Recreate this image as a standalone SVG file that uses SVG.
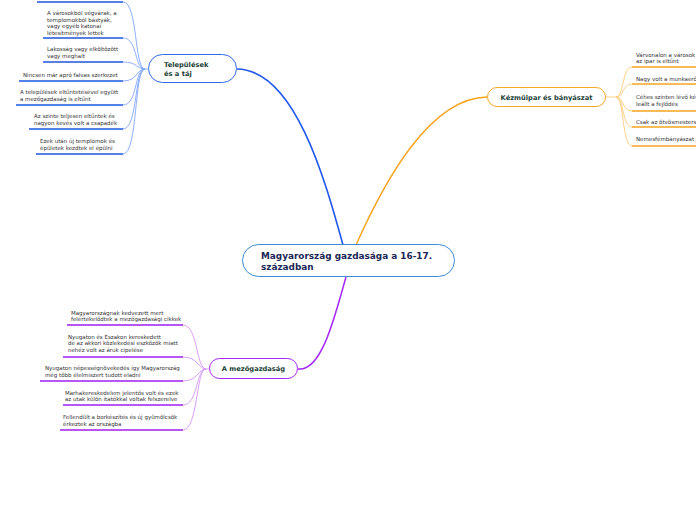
<svg xmlns="http://www.w3.org/2000/svg" width="696" height="520" viewBox="0 0 696 520">
<style>
.leaf{font-family:"DejaVu Sans",Verdana,sans-serif;font-size:5.5px;fill:#333}
.branch{font-family:"DejaVu Sans",Verdana,sans-serif;font-size:6.7px;font-weight:bold;fill:#1b3f36}
.central{font-family:"DejaVu Sans",Verdana,sans-serif;font-size:8.9px;font-weight:bold;fill:#1a2656}
.bl{stroke:#1f55e0;stroke-width:1.6;fill:none}
.blc{stroke:#7fa4ff;stroke-width:0.9;fill:none}
.or{stroke:#f7a51e;stroke-width:1.6;fill:none}
.orc{stroke:#fcc978;stroke-width:0.9;fill:none}
.pu{stroke:#a11ef2;stroke-width:1.6;fill:none}
.puc{stroke:#d595f8;stroke-width:0.9;fill:none}
</style>
<rect width="696" height="520" fill="#fff"/>
<g id="connectors">
<path d="M343,245 C325,180 295,70 237,69" stroke="#2158ec" stroke-width="1.6" fill="none"/>
<path d="M356,245 C385,180 430,98 487,97" stroke="#f9a21a" stroke-width="1.4" fill="none"/>
<path d="M346,277 C335,315 322,372 298,369" stroke="#a526f5" stroke-width="1.5" fill="none"/>
<path class="blc" d="M148,69 L145,69"/>
<path class="blc" d="M123,2 C138,2 134,69 145,69"/>
<path class="blc" d="M123,38 C138,38 134,69 145,69"/>
<path class="blc" d="M123,62 C138,62 136,69 145,69"/>
<path class="blc" d="M123,81 C138,81 136,69 145,69"/>
<path class="blc" d="M123,105 C138,105 134,69 145,69"/>
<path class="blc" d="M123,129 C138,129 134,69 145,69"/>
<path class="blc" d="M123,154 C138,154 134,69 145,69"/>
<path class="orc" d="M606,97 L616,97"/>
<path class="orc" d="M632,67 C622,67 624,97 616,97"/>
<path class="orc" d="M632,84 C622,84 624,97 616,97"/>
<path class="orc" d="M632,111 C622,111 624,97 616,97"/>
<path class="orc" d="M632,127 C622,127 624,97 616,97"/>
<path class="orc" d="M632,146 C622,146 624,97 616,97"/>
<path class="puc" d="M209,369 L206,369"/>
<path class="puc" d="M183,325 C198,325 196,369 206,369"/>
<path class="puc" d="M183,357 C198,357 198,369 206,369"/>
<path class="puc" d="M183,381 C198,381 198,369 206,369"/>
<path class="puc" d="M183,405 C198,405 196,369 206,369"/>
<path class="puc" d="M183,430 C198,430 196,369 206,369"/>
</g>
<g id="central">
<rect x="242.5" y="244.5" width="212" height="32" rx="16" fill="#fff" stroke="#3b8bd6" stroke-width="1"/>
<text class="central" x="261" y="259">Magyarország gazdasága a 16-17.</text>
<text class="central" x="261" y="270">században</text>
</g>
<g id="telepulesek">
<rect x="148.5" y="54.5" width="88" height="28" rx="14" fill="#fff" stroke="#2f6aea" stroke-width="1"/>
<text class="branch" x="164" y="67">Települések</text>
<text class="branch" x="164" y="76">és a táj</text>
</g>
<g id="t1"><line class="bl" x1="37" y1="2" x2="123" y2="2"/></g>
<g id="t2">
<text class="leaf" x="47" y="15">A városokból végvárak, a</text>
<text class="leaf" x="47" y="21.5">templomokból bástyák,</text>
<text class="leaf" x="47" y="28">vagy egyéb katonai</text>
<text class="leaf" x="47" y="34.5">létesítmények lettek</text>
<line class="bl" x1="43" y1="38" x2="123" y2="38"/>
</g>
<g id="t3">
<text class="leaf" x="47" y="51">Lakosság vagy elköltözött</text>
<text class="leaf" x="47" y="58">vagy meghalt</text>
<line class="bl" x1="43" y1="62" x2="123" y2="62"/>
</g>
<g id="t4">
<text class="leaf" x="23" y="76.5">Nincsen már apró falvas szerkezet</text>
<line class="bl" x1="19" y1="81" x2="123" y2="81"/>
</g>
<g id="t5">
<text class="leaf" x="20" y="94">A települések eltűntetésével együtt</text>
<text class="leaf" x="20" y="100.5">a mezőgazdaság is eltűnt</text>
<line class="bl" x1="16" y1="105" x2="123" y2="105"/>
</g>
<g id="t6">
<text class="leaf" x="34" y="118">Az szinte teljesen eltűntek és</text>
<text class="leaf" x="34" y="124.5">nagyon kevés volt a csapadék</text>
<line class="bl" x1="29" y1="129" x2="123" y2="129"/>
</g>
<g id="t7">
<text class="leaf" x="40" y="143">Ezek után új templomok és</text>
<text class="leaf" x="40" y="149.5">épületek kezdtek el épülni</text>
<line class="bl" x1="36" y1="154" x2="123" y2="154"/>
</g>
<g id="kezmuipar">
<rect x="487.5" y="87.5" width="118" height="19" rx="9.5" fill="#fff" stroke="#f7a928" stroke-width="1"/>
<text class="branch" x="546.5" y="99.5" text-anchor="middle">Kézműipar és bányászat</text>
</g>
<g id="k1">
<text class="leaf" x="636" y="57">Várvonalon a városok</text>
<text class="leaf" x="636" y="63">az ipar is eltűnt</text>
<line class="or" x1="632" y1="67" x2="696" y2="67"/>
</g>
<g id="k2">
<text class="leaf" x="636" y="80.5">Nagy volt a munkaerő</text>
<line class="or" x1="632" y1="84" x2="696" y2="84"/>
</g>
<g id="k3">
<text class="leaf" x="636" y="99">Céhes szinten lévő kéz</text>
<text class="leaf" x="636" y="105.5">leállt a fejlődés</text>
<line class="or" x1="632" y1="111" x2="696" y2="111"/>
</g>
<g id="k4">
<text class="leaf" x="636" y="123.5">Csak az ötvösmesters</text>
<line class="or" x1="632" y1="127" x2="696" y2="127"/>
</g>
<g id="k5">
<text class="leaf" x="636" y="141">Nemesfémbányászat j</text>
<line class="or" x1="632" y1="146" x2="696" y2="146"/>
</g>
<g id="mezogazdasag">
<rect x="209.5" y="358.5" width="88" height="20" rx="10" fill="#fff" stroke="#a526f2" stroke-width="1"/>
<text class="branch" x="253.5" y="371" text-anchor="middle">A mezőgazdaság</text>
</g>
<g id="m1">
<text class="leaf" x="71" y="314.5">Magyarországnak kedvezett mert</text>
<text class="leaf" x="71" y="321">felértékelődtek a mezőgazdasági cikkek</text>
<line class="pu" x1="67" y1="325" x2="183" y2="325"/>
</g>
<g id="m2">
<text class="leaf" x="68" y="338.5">Nyugaton és Északon kereskedett</text>
<text class="leaf" x="68" y="345">de az akkori közlekedési eszközök miatt</text>
<text class="leaf" x="68" y="351.5">nehéz volt az áruk cipelése</text>
<line class="pu" x1="63" y1="357" x2="183" y2="357"/>
</g>
<g id="m3">
<text class="leaf" x="45" y="370">Nyugaton népességnövekedés így Magyarország</text>
<text class="leaf" x="45" y="376.5">még több élelmiszert tudott eladni</text>
<line class="pu" x1="40" y1="381" x2="183" y2="381"/>
</g>
<g id="m4">
<text class="leaf" x="65" y="394.5">Marhakereskedelem jelentős volt és ezek</text>
<text class="leaf" x="65" y="401">az utak külön itatókkal voltak felszerelve</text>
<line class="pu" x1="63" y1="405" x2="183" y2="405"/>
</g>
<g id="m5">
<text class="leaf" x="63" y="419">Fellendült a borkészítés és új gyümölcsök</text>
<text class="leaf" x="63" y="425.5">érkeztek az országba</text>
<line class="pu" x1="60" y1="430" x2="183" y2="430"/>
</g>
</svg>
